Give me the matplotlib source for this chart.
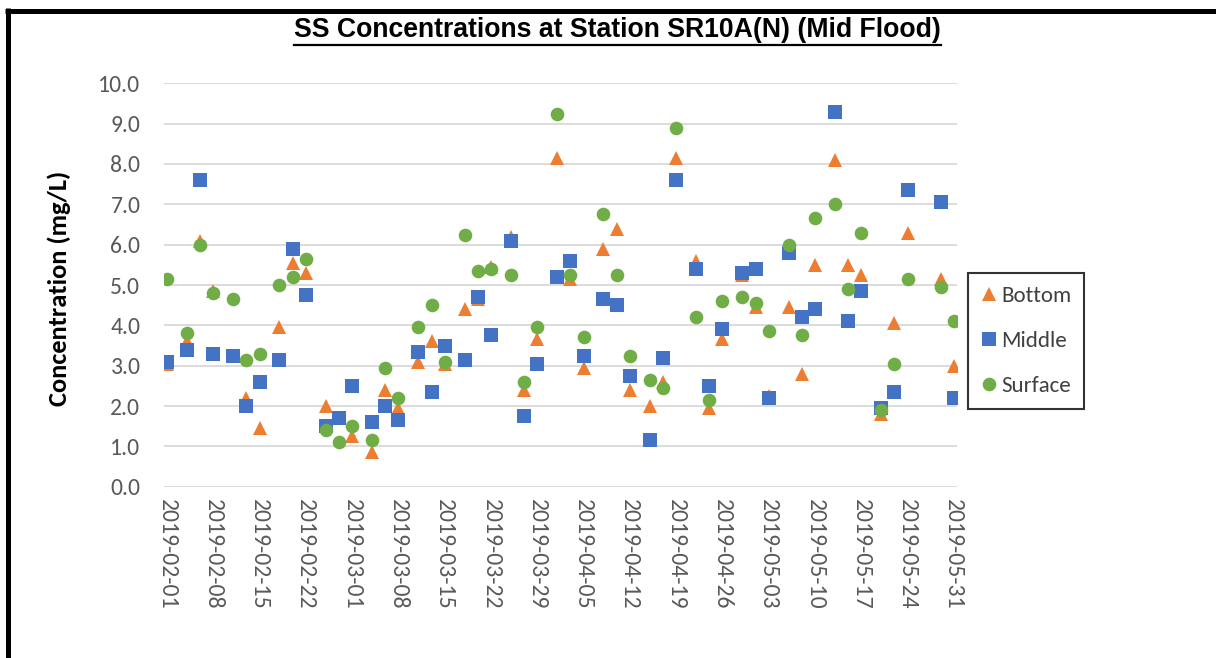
import numpy as np
import matplotlib
matplotlib.use("Agg")
import matplotlib.pyplot as plt
import matplotlib.dates as mdates
from matplotlib.lines import Line2D

plt.rcParams['font.family'] = ['Carlito', 'Lato', 'DejaVu Sans']

# sampling dates (Mon/Wed/Fri) and SS concentrations in mg/L
dates = ['2019-02-01', '2019-02-04', '2019-02-06', '2019-02-08', '2019-02-11', '2019-02-13',
         '2019-02-15', '2019-02-18', '2019-02-20', '2019-02-22', '2019-02-25', '2019-02-27',
         '2019-03-01', '2019-03-04', '2019-03-06', '2019-03-08', '2019-03-11', '2019-03-13',
         '2019-03-15', '2019-03-18', '2019-03-20', '2019-03-22', '2019-03-25', '2019-03-27',
         '2019-03-29', '2019-04-01', '2019-04-03', '2019-04-05', '2019-04-08', '2019-04-10',
         '2019-04-12', '2019-04-15', '2019-04-17', '2019-04-19', '2019-04-22', '2019-04-24',
         '2019-04-26', '2019-04-29', '2019-05-01', '2019-05-03', '2019-05-06', '2019-05-08',
         '2019-05-10', '2019-05-13', '2019-05-15', '2019-05-17', '2019-05-20', '2019-05-22',
         '2019-05-24', '2019-05-29', '2019-05-31']

bottom = [3.05, 3.6, 6.1, 4.85, 3.25, 2.2, 1.45, 3.95, 5.55, 5.3, 2.0, 1.7,
          1.25, 0.85, 2.4, 1.95, 3.1, 3.6, 3.05, 4.4, 4.65, 5.45, 6.2, 2.4,
          3.65, 8.15, 5.15, 2.95, 5.9, 6.4, 2.4, 2.0, 2.6, 8.15, 5.6, 1.95,
          3.65, 5.25, 4.45, 2.25, 4.45, 2.8, 5.5, 8.1, 5.5, 5.25, 1.8, 4.05,
          6.3, 5.15, 3.0]

middle = [3.1, 3.4, 7.6, 3.3, 3.25, 2.0, 2.6, 3.15, 5.9, 4.75, 1.5, 1.7,
          2.5, 1.6, 2.0, 1.65, 3.35, 2.35, 3.5, 3.15, 4.7, 3.75, 6.1, 1.75,
          3.05, 5.2, 5.6, 3.25, 4.65, 4.5, 2.75, 1.15, 3.2, 7.6, 5.4, 2.5,
          3.9, 5.3, 5.4, 2.2, 5.8, 4.2, 4.4, 9.3, 4.1, 4.85, 1.95, 2.35,
          7.35, 7.05, 2.2]

surface = [5.15, 3.8, 6.0, 4.8, 4.65, 3.15, 3.3, 5.0, 5.2, 5.65, 1.4, 1.1,
           1.5, 1.15, 2.95, 2.2, 3.95, 4.5, 3.1, 6.25, 5.35, 5.4, 5.25, 2.6,
           3.95, 9.25, 5.25, 3.7, 6.75, 5.25, 3.25, 2.65, 2.45, 8.9, 4.2, 2.15,
           4.6, 4.7, 4.55, 3.85, 6.0, 3.75, 6.65, 7.0, 4.9, 6.3, 1.9, 3.05,
           5.15, 4.95, 4.1]

x = np.array(dates, dtype='datetime64[D]')
tick_dates = np.arange(np.datetime64('2019-02-01'), np.datetime64('2019-06-01'), 7)

fig = plt.figure(figsize=(12.16, 6.58), dpi=100)
ax = fig.add_axes([0.1349, 0.2603, 0.652, 0.6131])

ax.plot(x, bottom, '^', color='#ED7D31', ms=10.5, mew=0, label='Bottom')
ax.plot(x, middle, 's', color='#4472C4', ms=10, mew=0, label='Middle')
ax.plot(x, surface, 'o', color='#70AD47', ms=9.8, mew=0, label='Surface')

ax.set_ylim(0, 10)
ax.set_yticks(np.arange(0, 10.5, 1.0))
ax.yaxis.set_major_formatter(plt.FuncFormatter(lambda v, p: f'{v:.1f}'))
ax.set_xlim(mdates.date2num(np.datetime64('2019-02-01')) - 0.45,
            mdates.date2num(np.datetime64('2019-05-31')) + 0.45)
ax.set_xticks(tick_dates)
ax.xaxis.set_major_formatter(mdates.DateFormatter('%Y-%m-%d'))
plt.setp(ax.get_xticklabels(), rotation=-90, ha='center', va='top')

ax.grid(axis='y', color='#D9D9D9', lw=1.3)
ax.set_axisbelow(True)
for s in ax.spines.values():
    s.set_visible(False)
ax.tick_params(axis='both', length=0, labelsize=17, labelcolor='#595959')
ax.tick_params(axis='y', pad=17)
ax.tick_params(axis='x', pad=9)

fig.text(0.049, 0.562, 'Concentration (mg/L)', rotation=90, ha='center', va='center',
         fontsize=19, fontweight='bold')

title = fig.text(0.508, 0.954, 'SS Concentrations at Station SR10A(N) (Mid Flood)',
                 ha='center', va='center', fontsize=19.2, fontweight='bold',
                 family=['Liberation Sans', 'DejaVu Sans'])

leg = ax.legend(loc='center left', bbox_to_anchor=(1.0, 0.361), frameon=True,
                fancybox=False, edgecolor='black', fontsize=16.5, labelspacing=1.1,
                handlelength=0.7, handletextpad=0.2, borderpad=0.55)
leg.get_frame().set_linewidth(1.5)
for t in leg.get_texts():
    t.set_color('#404040')

# underline the title
fig.canvas.draw()
bb = title.get_window_extent()
W, H = fig.bbox.width, fig.bbox.height
uy = (bb.y0 - 2) / H
fig.add_artist(Line2D([bb.x0 / W, bb.x1 / W], [uy, uy], color='black', lw=1.6,
                      transform=fig.transFigure))

# outer frame (top and left edges)
fig.add_artist(Line2D([7.5 / W, 7.5 / W], [0, 1 - 8 / H], color='black', lw=3.6,
                      transform=fig.transFigure, solid_capstyle='butt'))
fig.add_artist(Line2D([5 / W, 1], [1 - 10.5 / H, 1 - 10.5 / H], color='black', lw=3.6,
                      transform=fig.transFigure, solid_capstyle='butt'))

fig.savefig('out.png', dpi=100)
